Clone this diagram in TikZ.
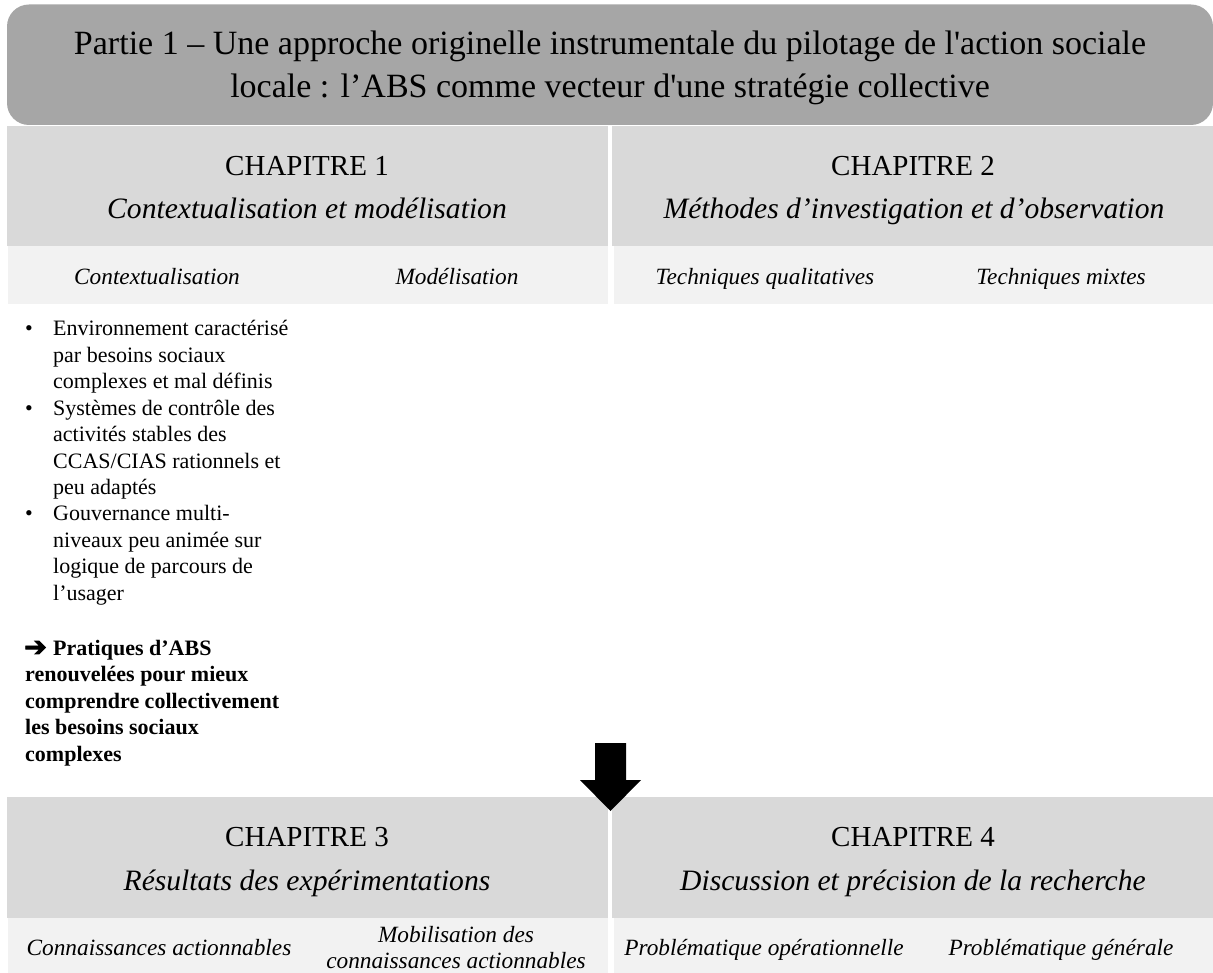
\documentclass[tikz,border=0pt]{standalone}
\usepackage{fontspec}
\setmainfont{Liberation Serif}
\newfontfamily\symfont[FakeBold=3]{DejaVu Sans}
\definecolor{bannergray}{HTML}{A6A6A6}
\definecolor{headgray}{HTML}{D9D9D9}
\definecolor{subgray}{HTML}{F2F2F2}
\begin{document}
\begin{tikzpicture}[x=1pt,y=-1pt,
  titletxt/.style={anchor=base, inner sep=0pt, font=\fontsize{34}{40}\selectfont},
  chaptxt/.style={anchor=base, inner sep=0pt, font=\fontsize{29}{35}\selectfont},
  chapsub/.style={anchor=base, inner sep=0pt, font=\fontsize{29.6}{35}\selectfont\itshape},
  coltxt/.style={anchor=base, inner sep=0pt, font=\fontsize{23.3}{27}\selectfont\itshape},
  bodytxt/.style={anchor=base west, inner sep=0pt, font=\fontsize{22}{26}\selectfont},
  boldtxt/.style={anchor=base west, inner sep=0pt, font=\fontsize{22}{26}\selectfont\bfseries},
  bulltxt/.style={anchor=base, inner sep=0pt, font=\fontsize{22}{26}\selectfont},
]
\useasboundingbox (0,0) rectangle (1213,973);
\fill[white] (0,0) rectangle (1213,973);

% banner
\fill[bannergray, rounded corners=22pt] (7,4.5) rectangle (1213,125);
\node[titletxt] (title1) at (610,55) {Partie 1 – Une approche originelle instrumentale du pilotage de l\textquotesingle action sociale};
\node[titletxt] (title2) at (610,98) {locale : l’ABS comme vecteur d\textquotesingle une stratégie collective};

% chapter boxes
\fill[headgray] (7,126) rectangle (608,246);
\fill[subgray] (8,246) rectangle (608,304);
\fill[headgray] (612,126) rectangle (1213,246);
\fill[subgray] (614,246) rectangle (1213,304);
\fill[headgray] (7,797) rectangle (608,918);
\fill[subgray] (8,918) rectangle (608,973);
\fill[headgray] (612,797) rectangle (1213,918);
\fill[subgray] (614,918) rectangle (1213,973);

% chapter 1
\node[chaptxt] (ch1) at (307,176) {CHAPITRE 1};
\node[chapsub] (ch1s) at (307,218.5) {Contextualisation et modélisation};
\node[coltxt] (c1a) at (157,285) {Contextualisation};
\node[coltxt] (c1b) at (457,285) {Modélisation};

% chapter 2
\node[chaptxt] (ch2) at (913,176) {CHAPITRE 2};
\node[chapsub] (ch2s) at (914,218.5) {Méthodes d’investigation et d’observation};
\node[coltxt] (c2a) at (765,285) {Techniques qualitatives};
\node[coltxt] (c2b) at (1061,285) {Techniques mixtes};

% chapter 3
\node[chaptxt] (ch3) at (307,846) {CHAPITRE 3};
\node[chapsub] (ch3s) at (307,890) {Résultats des expérimentations};
\node[coltxt] (c3a) at (159,955) {Connaissances actionnables};
\node[coltxt] (c3b1) at (456,942) {Mobilisation des};
\node[coltxt] (c3b2) at (456,968) {connaissances actionnables};

% chapter 4
\node[chaptxt] (ch4) at (913,846) {CHAPITRE 4};
\node[chapsub] (ch4s) at (913,890) {Discussion et précision de la recherche};
\node[coltxt] (c4a) at (764,955) {Problématique opérationnelle};
\node[coltxt] (c4b) at (1061,955) {Problématique générale};

% bullet list
\foreach \t [count=\i from 0] in {Environnement caractérisé, par besoins sociaux, complexes et mal définis,
  Systèmes de contrôle des, activités stables des, CCAS/CIAS rationnels et, peu adaptés,
  Gouvernance multi-, niveaux peu animée sur, logique de parcours de, l’usager}
  \node[bodytxt] (line\i) at (53,{336+26.4*\i}) {\t};
\node[bulltxt] (bul1) at (29,336) {•};
\node[bulltxt] (bul2) at (29,{336+26.4*3}) {•};
\node[bulltxt] (bul3) at (29,{336+26.4*7}) {•};

% conclusion
\node[anchor=base west, inner sep=0pt, font=\symfont\fontsize{27}{28}\selectfont] (concarrow) at (24,656) {➔};
\node[boldtxt] (conc0) at (53,655) {Pratiques d’ABS};
\foreach \t [count=\i from 1] in {renouvelées pour mieux, comprendre collectivement, les besoins sociaux, complexes}
  \node[boldtxt] (conc\i) at (25,{655+26.5*\i}) {\t};

% block arrow
\fill[black] (595,743) -- (626,743) -- (626,780) -- (641,780) -- (610.5,811) -- (580,780) -- (595,780) -- cycle;
\end{tikzpicture}
\end{document}
